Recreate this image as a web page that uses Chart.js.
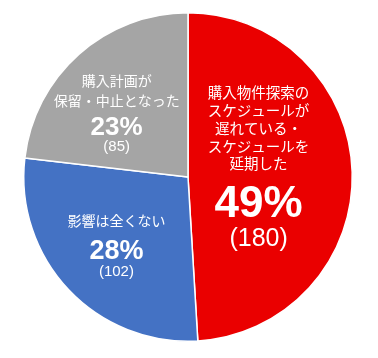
<!DOCTYPE html>
<html>
<head>
<meta charset="utf-8">
<script src="https://cdn.jsdelivr.net/npm/chart.js@4/dist/chart.umd.min.js"></script>
<style>
html,body{margin:0;padding:0;background:#fff;}
canvas{display:block;}
</style>
</head>
<body>
<canvas id="c" width="378" height="358"></canvas>
<script>
const categories = [
  "購入物件探索のスケジュールが遅れている・スケジュールを延期した",
  "影響は全くない",
  "購入計画が保留・中止となった"
];
const counts = [180, 102, 85];
const percents = ["49%", "28%", "23%"];
const labelLines = [
  ["購入物件探索の", "スケジュールが", "遅れている・", "スケジュールを", "延期した"],
  ["影響は全くない"],
  ["購入計画が", "保留・中止となった"]
];
const colors = ["#EA0000", "#4472C4", "#A5A5A5"];

const JP = '"Noto Sans CJK JP", "Noto Sans", sans-serif';
const NUM = '"Liberation Sans", Arial, sans-serif';

// per-slice label layout (relative to slice anchor)
const labelLayout = [
  { frac: 0.43, dx: 0, textSize: 14.5, textDy: [-82, -64, -46, -28, -11], pctSize: 44, pctDy: 30, cntSize: 25, cntDy: 64 },
  { frac: 0.60, dx: 0, textSize: 14, textDy: [-24], pctSize: 27, pctDy: 7, cntSize: 15, cntDy: 27 },
  { frac: 0.58, dx: -8, textSize: 14, textDy: [-25, -5], pctSize: 26, pctDy: 22, cntSize: 15, cntDy: 41 }
];

const labelPlugin = {
  id: 'sliceLabels',
  afterDatasetsDraw(chart) {
    const ctx = chart.ctx;
    const meta = chart.getDatasetMeta(0);
    meta.data.forEach((arc, i) => {
      const p = arc.getProps(['x','y','startAngle','endAngle','outerRadius'], true);
      const mid = (p.startAngle + p.endAngle) / 2;
      const L = labelLayout[i];
      const ax = p.x + Math.cos(mid) * p.outerRadius * L.frac + L.dx;
      const ay = p.y + Math.sin(mid) * p.outerRadius * L.frac;
      ctx.save();
      ctx.fillStyle = '#FFFFFF';
      ctx.textAlign = 'center';
      ctx.textBaseline = 'middle';
      ctx.font = `${L.textSize}px ${JP}`;
      labelLines[i].forEach((t, k) => ctx.fillText(t, ax, ay + L.textDy[k]));
      ctx.font = `bold ${L.pctSize}px ${NUM}`;
      ctx.fillText(percents[i], ax, ay + L.pctDy);
      ctx.font = `${L.cntSize}px ${NUM}`;
      ctx.fillText(`(${counts[i]})`, ax, ay + L.cntDy);
      ctx.restore();
    });
  }
};

new Chart(document.getElementById('c'), {
  type: 'pie',
  data: {
    labels: categories,
    datasets: [{
      data: counts,
      backgroundColor: colors,
      borderColor: '#FFFFFF',
      borderWidth: 1.5
    }]
  },
  options: {
    responsive: false,
    animation: false,
    layout: { padding: { left: 23, right: 25, top: 12, bottom: 16 } },
    plugins: { legend: { display: false }, tooltip: { enabled: false } }
  },
  plugins: [labelPlugin]
});
</script>
</body>
</html>
